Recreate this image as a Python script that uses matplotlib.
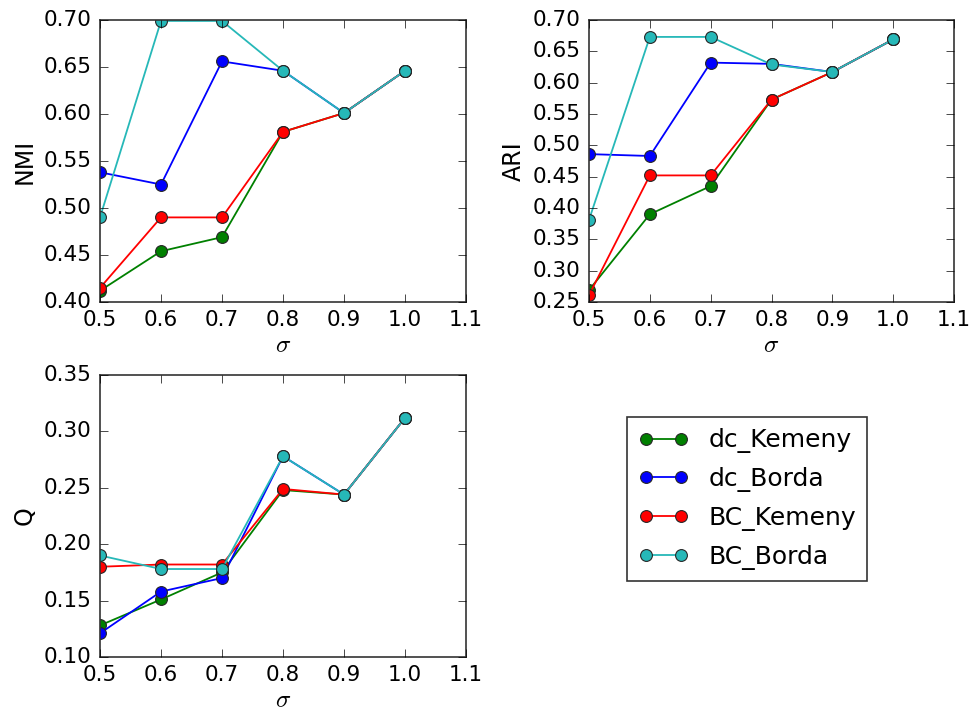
import matplotlib
matplotlib.use("Agg")
import matplotlib.pyplot as plt

plt.style.use("classic")
plt.rcParams['font.family'] = ['DejaVu Sans']

sigma = [0.5, 0.6, 0.7, 0.8, 0.9, 1.0]
series_names = ["dc_Kemeny", "dc_Borda", "BC_Kemeny", "BC_Borda"]
series_colors = [(0, 0.5, 0), (0, 0, 1), (1, 0, 0), (0.15, 0.72, 0.72)]

nmi_dc_kemeny = [0.412, 0.454, 0.469, 0.581, 0.601, 0.646]
nmi_dc_borda = [0.538, 0.525, 0.656, 0.646, 0.601, 0.646]
nmi_bc_kemeny = [0.415, 0.490, 0.490, 0.581, 0.601, 0.646]
nmi_bc_borda = [0.490, 0.699, 0.699, 0.646, 0.601, 0.646]

ari_dc_kemeny = [0.269, 0.390, 0.435, 0.573, 0.617, 0.669]
ari_dc_borda = [0.486, 0.483, 0.632, 0.630, 0.617, 0.669]
ari_bc_kemeny = [0.261, 0.452, 0.452, 0.573, 0.617, 0.669]
ari_bc_borda = [0.381, 0.673, 0.673, 0.629, 0.617, 0.669]

q_dc_kemeny = [0.128, 0.151, 0.175, 0.248, 0.244, 0.312]
q_dc_borda = [0.121, 0.158, 0.170, 0.278, 0.244, 0.312]
q_bc_kemeny = [0.180, 0.182, 0.182, 0.249, 0.244, 0.312]
q_bc_borda = [0.190, 0.178, 0.178, 0.278, 0.244, 0.312]

panels = [
    ("NMI", [nmi_dc_kemeny, nmi_dc_borda, nmi_bc_kemeny, nmi_bc_borda], (0.40, 0.70), [0.40, 0.45, 0.50, 0.55, 0.60, 0.65, 0.70]),
    ("ARI", [ari_dc_kemeny, ari_dc_borda, ari_bc_kemeny, ari_bc_borda], (0.25, 0.70), [0.25, 0.30, 0.35, 0.40, 0.45, 0.50, 0.55, 0.60, 0.65, 0.70]),
    ("Q", [q_dc_kemeny, q_dc_borda, q_bc_kemeny, q_bc_borda], (0.10, 0.35), [0.10, 0.15, 0.20, 0.25, 0.30, 0.35]),
]
xticks = [0.5, 0.6, 0.7, 0.8, 0.9, 1.0, 1.1]

fig = plt.figure(figsize=(9.8, 7.12), dpi=100, facecolor="white")
W, H = 980.0, 712.0
rects = [
    (100 / W, 1 - 302 / H, 366 / W, 282 / H),
    (589 / W, 1 - 302 / H, 365 / W, 282 / H),
    (100 / W, 1 - 657 / H, 366 / W, 282 / H),
]

handles = None
for (label, data, ylim, yticks), rect in zip(panels, rects):
    ax = fig.add_axes(rect)
    hs = []
    for vals, name, col in zip(data, series_names, series_colors):
        h, = ax.plot(sigma, vals, '-o', color=col, lw=1.3, markersize=8.5,
                     markeredgecolor=(0.15, 0.15, 0.15), markeredgewidth=0.8, label=name)
        hs.append(h)
    handles = hs
    ax.set_xlim(0.5, 1.1)
    ax.set_ylim(*ylim)
    ax.set_xticks(xticks)
    ax.set_xticklabels(["%.1f" % t for t in xticks])
    ax.set_yticks(yticks)
    ax.set_yticklabels(["%.2f" % t for t in yticks])
    ax.tick_params(labelsize=15.5, direction='in', length=6, pad=6)
    ax.set_ylabel(label, fontsize=17, labelpad=5)
    ax.set_xlabel(r"$\sigma$", fontsize=18, labelpad=2)
    for s in ax.spines.values():
        s.set_linewidth(1.2)
        s.set_color((0.2, 0.2, 0.2))

leg = fig.legend(handles, series_names, loc='upper left',
                 bbox_to_anchor=(627 / W, 1 - 417 / H), bbox_transform=fig.transFigure,
                 fontsize=18, numpoints=2, frameon=True, fancybox=False,
                 borderaxespad=0, handlelength=2.0, labelspacing=0.55, borderpad=0.45,
                 handletextpad=0.8)
leg.get_frame().set_linewidth(1.2)
leg.get_frame().set_edgecolor((0.2, 0.2, 0.2))

fig.savefig("out.png", dpi=100, facecolor="white")
